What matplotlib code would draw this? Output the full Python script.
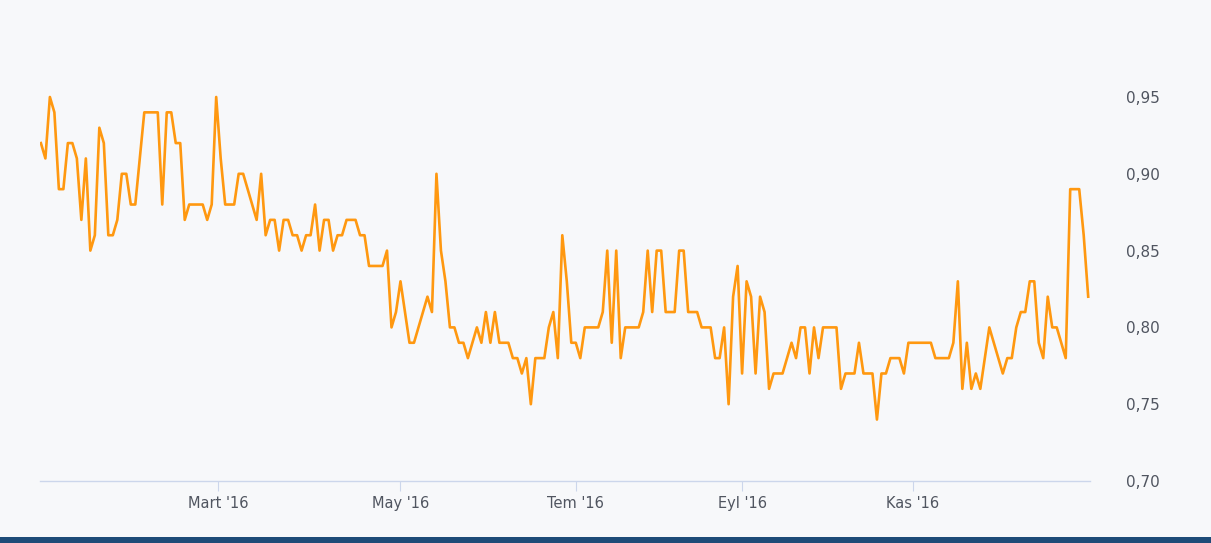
import matplotlib
matplotlib.use("Agg")
import matplotlib.pyplot as plt
from matplotlib.patches import Rectangle
from matplotlib.ticker import FuncFormatter

# daily values, Jan '16 -> Dec '16
values = [
    0.92, 0.91, 0.95, 0.94, 0.89, 0.89, 0.92, 0.92, 0.91, 0.87,
    0.91, 0.85, 0.86, 0.93, 0.92, 0.86, 0.86, 0.87, 0.90, 0.90,
    0.88, 0.88, 0.91, 0.94, 0.94, 0.94, 0.94, 0.88, 0.94, 0.94,
    0.92, 0.92, 0.87, 0.88, 0.88, 0.88, 0.88, 0.87, 0.88, 0.95,
    0.91, 0.88, 0.88, 0.88, 0.90, 0.90, 0.89, 0.88, 0.87, 0.90,
    0.86, 0.87, 0.87, 0.85, 0.87, 0.87, 0.86, 0.86, 0.85, 0.86,
    0.86, 0.88, 0.85, 0.87, 0.87, 0.85, 0.86, 0.86, 0.87, 0.87,
    0.87, 0.86, 0.86, 0.84, 0.84, 0.84, 0.84, 0.85, 0.80, 0.81,
    0.83, 0.81, 0.79, 0.79, 0.80, 0.81, 0.82, 0.81, 0.90, 0.85,
    0.83, 0.80, 0.80, 0.79, 0.79, 0.78, 0.79, 0.80, 0.79, 0.81,
    0.79, 0.81, 0.79, 0.79, 0.79, 0.78, 0.78, 0.77, 0.78, 0.75,
    0.78, 0.78, 0.78, 0.80, 0.81, 0.78, 0.86, 0.83, 0.79, 0.79,
    0.78, 0.80, 0.80, 0.80, 0.80, 0.81, 0.85, 0.79, 0.85, 0.78,
    0.80, 0.80, 0.80, 0.80, 0.81, 0.85, 0.81, 0.85, 0.85, 0.81,
    0.81, 0.81, 0.85, 0.85, 0.81, 0.81, 0.81, 0.80, 0.80, 0.80,
    0.78, 0.78, 0.80, 0.75, 0.82, 0.84, 0.77, 0.83, 0.82, 0.77,
    0.82, 0.81, 0.76, 0.77, 0.77, 0.77, 0.78, 0.79, 0.78, 0.80,
    0.80, 0.77, 0.80, 0.78, 0.80, 0.80, 0.80, 0.80, 0.76, 0.77,
    0.77, 0.77, 0.79, 0.77, 0.77, 0.77, 0.74, 0.77, 0.77, 0.78,
    0.78, 0.78, 0.77, 0.79, 0.79, 0.79, 0.79, 0.79, 0.79, 0.78,
    0.78, 0.78, 0.78, 0.79, 0.83, 0.76, 0.79, 0.76, 0.77, 0.76,
    0.78, 0.80, 0.79, 0.78, 0.77, 0.78, 0.78, 0.80, 0.81, 0.81,
    0.83, 0.83, 0.79, 0.78, 0.82, 0.80, 0.80, 0.79, 0.78, 0.89,
    0.89, 0.89, 0.86, 0.82,
]
tick_pos = [39.5, 80, 119, 156, 194]
tick_labels = ["Mart '16", "May '16", "Tem '16", "Eyl '16", "Kas '16"]
y_ticks = [0.70, 0.75, 0.80, 0.85, 0.90, 0.95]

BG = "#f7f8fa"
LINE = "#ff9810"
AXIS = "#ccd6eb"
TEXT = "#505560"

W, H = 1211, 543
fig = plt.figure(figsize=(W / 100, H / 100), dpi=100, facecolor=BG)
ax = fig.add_axes([40 / W, (H - 481) / H, 1050 / W, 422.4 / H])
ax.set_facecolor(BG)

xs = list(range(len(values)))
ax.plot(xs, values, color=LINE, lw=1.9, solid_joinstyle="round")

ax.set_xlim(-0.2, len(values) - 1 + 0.4)
ax.set_ylim(0.70, 0.975)

for s in ["top", "right", "left"]:
    ax.spines[s].set_visible(False)
ax.spines["bottom"].set_color(AXIS)
ax.spines["bottom"].set_linewidth(1)

ax.set_xticks(tick_pos)
ax.set_xticklabels(tick_labels)
ax.tick_params(axis="x", length=7, width=0.8, color=AXIS, colors=TEXT,
               labelsize=10.5, pad=4)
ax.tick_params(axis="x", colors=AXIS, labelcolor=TEXT)

ax.yaxis.tick_right()
ax.set_yticks(y_ticks)
ax.yaxis.set_major_formatter(FuncFormatter(lambda v, _: f"{v:.2f}".replace(".", ",")))
ax.tick_params(axis="y", length=0, labelsize=11, labelcolor=TEXT, pad=26)
for lbl in ax.get_yticklabels():
    lbl.set_horizontalalignment("left")

# dark band along the bottom edge
fig.patches.append(Rectangle((0, 0), 1, 6 / H, transform=fig.transFigure,
                             facecolor="#1e4b78", edgecolor="none"))

fig.savefig("out.png", dpi=100, facecolor=BG)
